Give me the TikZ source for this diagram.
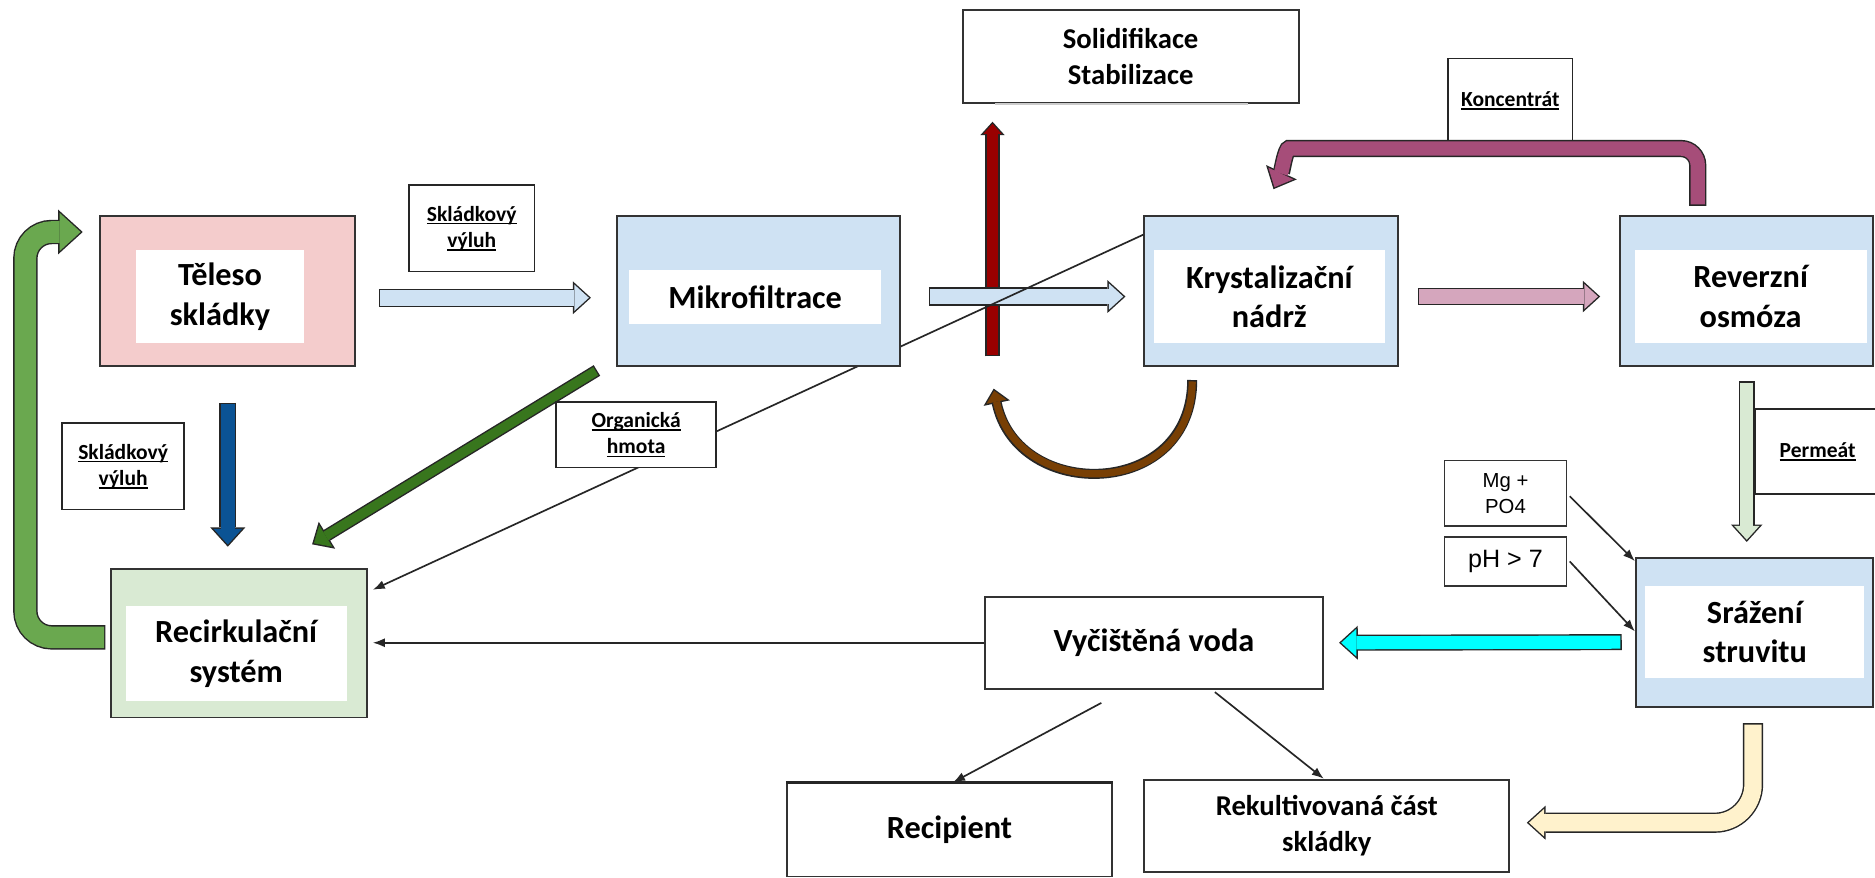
\documentclass[tikz,border=0pt]{standalone}
\usepackage{fontspec}
\setmainfont{Carlito}
\newfontfamily\arialfont{Liberation Sans}
\usetikzlibrary{arrows.meta,calc}
\pgfdeclarelayer{bg}
\pgfdeclarelayer{front}
\pgfsetlayers{bg,main,front}

\definecolor{pinkbox}{HTML}{F4CCCC}
\definecolor{bluebox}{HTML}{CFE2F3}
\definecolor{greenbox}{HTML}{D9EAD3}
\definecolor{pinkarrow}{HTML}{D5A6BD}
\definecolor{koncarrow}{HTML}{A64D79}
\definecolor{redarrow}{HTML}{990000}
\definecolor{brownarrow}{HTML}{783F04}
\definecolor{darkgreen}{HTML}{38761D}
\definecolor{bluearrow}{HTML}{0B5394}
\definecolor{greenarrow}{HTML}{6AA84F}
\definecolor{creamarrow}{HTML}{FFF2CC}
\definecolor{cyanarrow}{HTML}{00FFFF}

\newcommand{\uword}[1]{\leavevmode\setbox0\hbox{#1}\rlap{\rule[-2.8pt]{\wd0}{1.3pt}}\box0}

\tikzset{
  box/.style={draw=black!80, line width=1.6pt, inner sep=0pt},
  inbox/.style={fill=white, inner sep=0pt, align=center, font=\bfseries\fontsize{27}{33}\selectfont},
  plainbox/.style={draw=black!80, line width=1.6pt, fill=white, inner sep=0pt, align=center,
    font=\bfseries\fontsize{27}{33}\selectfont},
  tag/.style={draw=black!85, line width=1.5pt, fill=white, inner sep=0pt, align=center,
    font=\bfseries\fontsize{18}{22}\selectfont},
  sansbox/.style={draw=black!80, line width=1.4pt, fill=white, inner sep=0pt, align=center},
  link/.style={draw=black!85, line width=1.4pt, -{Latex[length=10pt,width=7.5pt]}},
  fat/.code n args={3}{%
    \pgfmathsetmacro\fatw{#2+2.4}%
    \pgfmathsetmacro\fatl{0.55*#3}%
    \pgfmathsetmacro\fatlo{0.55*#3+3}%
    \pgfmathsetmacro\fatho{#3+5.4}%
    \tikzset{preaction={draw=black!85, line width=\fatw pt, shorten <=0pt, shorten >=0pt,
        -{Triangle[length=\fatlo pt, width=\fatho pt, line width=0pt]}},
      draw=#1, line width=#2pt, shorten <=1.2pt, shorten >=1.8pt,
      -{Triangle[length=\fatl pt, width=#3pt, line width=0pt]}}},
}

\begin{document}
\begin{tikzpicture}[x=1pt,y=-1pt]
\useasboundingbox (0,0) rectangle (1568,734);

% process boxes
\node[box, fill=pinkbox, minimum width=213pt, minimum height=125pt] (teleso) at (190.5,243.5) {};
\node[inbox, minimum width=140pt, minimum height=78pt] (teleso-t) at (184,248) {Těleso\\skládky};
\begin{pgfonlayer}{front}
\node[box, fill=bluebox, minimum width=237pt, minimum height=125pt] (mikro) at (634.5,243.5) {};
\node[inbox, minimum width=211pt, minimum height=45pt] (mikro-t) at (631.5,248.5) {Mikrofiltrace};
\end{pgfonlayer}
\node[box, fill=bluebox, minimum width=212pt, minimum height=125pt] (kryst) at (1063,243.5) {};
\node[inbox, minimum width=193pt, minimum height=78pt] (kryst-t) at (1061.5,248) {Krystalizační\\nádrž};
\node[box, fill=bluebox, minimum width=211.5pt, minimum height=125pt] (rev) at (1460.75,243.5) {};
\node[inbox, minimum width=194pt, minimum height=78pt] (rev-t) at (1464,248) {Reverzní\\osmóza};
\node[box, fill=greenbox, minimum width=214pt, minimum height=124pt] (recirk) at (200,538) {};
\node[inbox, minimum width=185pt, minimum height=79pt] (recirk-t) at (197.5,546.5) {Recirkulační\\systém};
\node[box, fill=bluebox, minimum width=198pt, minimum height=124pt] (sraz) at (1467,529) {};
\node[inbox, minimum width=183pt, minimum height=77pt] (sraz-t) at (1467.5,528.5) {Srážení\\struvitu};

% white boxes
\node[plainbox, minimum width=281pt, minimum height=78pt, font=\bfseries\fontsize{24}{30}\selectfont] (solid) at (945.5,47) {Solidifikace\\Stabilizace};
\draw[gray!40, line width=1.6pt] ($(solid.south west)+(28,0)$) -- ($(solid.south east)+(-43,0)$);
\node[plainbox, minimum width=282pt, minimum height=77pt] (vyc) at (965,537.5) {Vyčištěná voda};
\node[plainbox, minimum width=272pt, minimum height=78pt] (recip) at (794,694) {Recipient};
\draw[black!85, line width=3pt] (recip.north west) -- (recip.north east);
\node[plainbox, minimum width=305pt, minimum height=77pt, font=\bfseries\fontsize{24}{30}\selectfont] (rekult) at (1109.5,690.5) {Rekultivovaná část\\skládky};
\node[sansbox, minimum width=102pt, minimum height=55pt, font=\arialfont\fontsize{17}{22}\selectfont] (mg) at (1259,412.5) {Mg +\\PO4};
\node[sansbox, minimum width=102pt, minimum height=41pt, font=\arialfont\fontsize{21}{24}\selectfont] (ph) at (1259,469.5) {pH > 7};

% labels
\node[tag, minimum width=105pt, minimum height=72pt] (vyluh-a) at (394.5,191) {\uword{Skládkový}\\\uword{výluh}};
\node[tag, minimum width=102pt, minimum height=72pt] (vyluh-b) at (103,390) {\uword{Skládkový}\\\uword{výluh}};
\begin{pgfonlayer}{front}
\node[tag, minimum width=134pt, minimum height=55pt] (org) at (532,363.5) {\uword{Organická}\\\uword{hmota}};
\end{pgfonlayer}
\node[tag, minimum width=104pt, minimum height=70pt] (konc) at (1263,84) {\uword{Koncentrát}};
\node[tag, minimum width=104pt, minimum height=71pt] (perm) at (1520,377.5) {\uword{Permeát}};

\coordinate (redfoot) at (830,298);

\begin{pgfonlayer}{bg}
\fill[white] (0,0) rectangle (1568,734);
\end{pgfonlayer}

% fat arrows
\draw[fat={redarrow}{9.6}{15}] (redfoot) -- ($(solid.south)+(-115.5,15)$);
\draw[fat={bluebox}{13}{22}] ($(teleso.east)+(19,5.5)$) -- ($(mikro.west)+(-21,5.5)$);
\draw[fat={bluebox}{13}{22}] ($(mikro.east)+(23,4.5)$) -- ($(kryst.west)+(-15,4.5)$);
\draw[fat={pinkarrow}{12}{21}] ($(kryst.east)+(16,4.5)$) -- ($(rev.west)+(-16,4.5)$);
\draw[fat={koncarrow}{12}{23}, rounded corners=14pt] ($(rev.north)+(-41,-8)$) |- ($(kryst.north)+(29,-56)$)
  to[out=180,in=65] ($(kryst.north)+(2,-22)$);
\draw[fat={brownarrow}{6}{17}] ($(kryst.south)+(-66,11)$) .. controls +(0,100) and +(20,95) .. ($(redfoot)+(1,27)$);
\draw[fat={darkgreen}{8}{21}] ($(mikro.south west)+(-16,3)$) -- ($(recirk.north)+(61,-20)$);
\draw[fat={bluearrow}{11.6}{24}] ($(teleso.south)+(0,30)$) -- ($(teleso.south |- recirk.north)+(0,-18)$);
\draw[fat={greenarrow}{18}{32}, rounded corners=22pt] ($(recirk.west)+(-4,-5)$) -- ++(-67,0) |- ($(teleso.west)+(-14,-49.5)$);
\draw[fat={greenbox}{11}{21}] ($(rev.south)+(0,12)$) -- ($(rev.south |- sraz.north)+(0,-13)$);
\draw[fat={cyanarrow}{11}{23}] ($(sraz.west)+(-11,8)$) -- ($(vyc.east)+(13,0)$);
\draw[fat={creamarrow}{14.5}{23}, rounded corners=32pt] ($(sraz.south)+(-1,13)$) |- ($(rekult.east)+(14,-2.5)$);

% thin connectors
\draw[link] ($(kryst.north west)+(0,16)$) -- ($(recirk.north east)+(4,18)$);
\draw[link] (vyc.west) -- ($(vyc.west -| recirk.east)+(4,0)$);
\draw[link] ($(vyc.south)+(-44,11)$) -- ($(recip.north)+(3,0)$);
\draw[link] ($(vyc.south)+(51,2)$) -- ($(rekult.north)+(-2.5,0)$);
\draw[link] ($(mg.east)+(2,2.5)$) -- ($(sraz.north west)+(0,3)$);
\draw[link] ($(ph.east)+(2,0)$) -- ($(sraz.west)+(0,-1)$);
\end{tikzpicture}
\end{document}
